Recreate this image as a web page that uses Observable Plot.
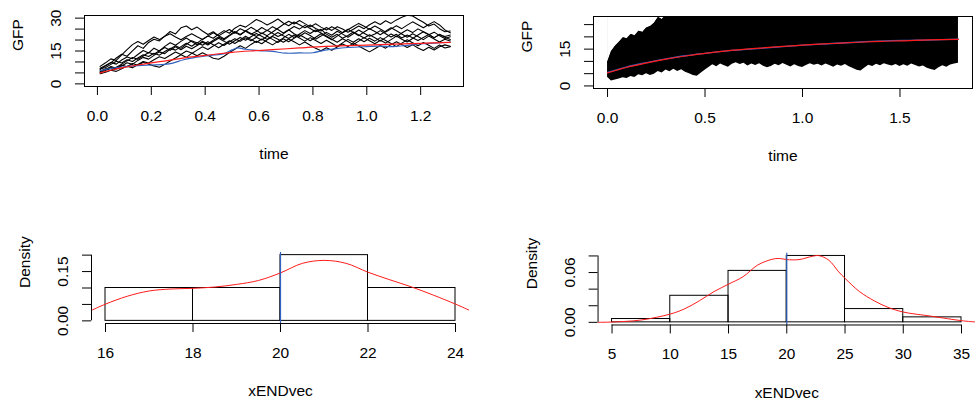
<!DOCTYPE html>
<html><head><meta charset="utf-8">
<script src="https://cdn.jsdelivr.net/npm/d3@7"></script>
<script src="https://cdn.jsdelivr.net/npm/@observablehq/plot@0.6"></script>
<style>
html,body{margin:0;padding:0;background:#fff;overflow:hidden;}
#wrap{position:relative;width:976px;height:406px;overflow:hidden;background:#fff;}
.panel{position:absolute;}
.panel svg{overflow:visible;display:block;}
</style></head><body><div id="wrap"></div>
<script>
// ---------- Panel 1: a few trajectories ----------
const timeGrid = [0.01,0.03,0.05,0.07,0.09,0.11,0.13,0.15,0.17,0.19,0.21,0.23,0.25,0.27,0.29,0.31,0.33,0.35,0.37,0.39,0.41,0.43,0.45,0.47,0.49,0.51,0.53,0.55,0.57,0.59,0.61,0.63,0.65,0.67,0.69,0.71,0.73,0.75,0.77,0.79,0.81,0.83,0.85,0.87,0.89,0.91,0.93,0.95,0.97,0.99,1.01,1.03,1.05,1.07,1.09,1.11,1.13,1.15,1.17,1.19,1.21,1.23,1.25,1.27,1.29,1.31];
const seriesA = [6.5,8.2,9.6,11.8,13.5,12.6,15.1,17.4,16.2,18.9,20.4,19.6,21.8,23.9,22.8,25.6,26.4,24.7,25.9,24.1,22.5,23.8,21.9,23.4,24.8,23.1,25.2,24.0,22.6,23.9,25.7,24.3,26.1,24.8,23.2,24.7,22.9,21.6,23.3,22.1,20.4,21.8,23.5,22.2,24.0,22.7,21.3,22.9,24.6,23.1,21.7,22.8,24.3,22.9,21.4,22.6,20.9,22.3,21.0,19.8,21.2,22.5,21.1,22.4,21.6,22.3];
const seriesB = [5.2,6.1,7.4,6.8,8.2,9.6,8.9,10.7,12.1,11.3,13.0,14.6,13.8,15.9,17.4,16.2,18.1,19.7,18.6,20.4,21.9,20.8,22.7,24.3,23.1,25.4,26.8,25.9,27.6,29.4,28.3,26.9,28.1,29.6,27.8,26.5,28.2,27.0,25.6,26.9,25.3,24.1,25.7,24.4,26.1,25.0,23.6,24.9,26.4,25.2,27.0,28.3,27.1,28.8,27.6,29.2,30.4,31.3,31.0,29.5,28.1,26.4,27.3,25.2,23.8,24.1];
const seriesC = [7.1,8.4,9.8,9.0,10.9,12.3,11.5,13.4,15.2,14.1,16.3,15.0,17.1,18.8,17.6,19.4,20.9,19.3,17.8,19.5,18.2,19.9,21.4,20.1,21.9,23.5,22.3,24.1,25.8,24.4,22.9,24.5,23.1,21.6,22.8,24.6,26.2,25.0,26.7,25.3,23.8,24.9,22.7,21.3,22.6,20.8,22.1,23.7,22.3,20.9,22.4,21.0,19.6,21.1,22.8,21.5,23.2,24.7,23.4,25.1,23.8,22.4,23.6,22.0,20.7,21.5];
const seriesD = [4.6,5.3,6.2,5.7,6.9,8.1,7.4,8.8,10.2,9.5,11.0,12.4,11.6,13.1,14.5,13.4,15.0,14.1,12.8,14.2,13.0,11.7,11.2,12.6,14.3,15.8,17.4,16.2,18.0,19.5,18.3,20.1,21.6,20.4,19.0,20.5,19.2,17.8,19.1,17.6,16.2,15.1,16.5,15.3,16.8,18.2,17.0,18.6,17.3,15.9,14.6,16.0,17.5,16.3,17.9,19.2,18.0,16.6,17.9,16.4,15.2,16.7,15.5,16.9,17.8,17.2];
const seriesE = [5.9,6.6,7.9,7.1,8.6,7.8,9.3,8.5,9.9,9.0,8.2,7.6,8.9,10.4,11.8,13.3,12.1,13.9,15.4,16.9,15.7,17.3,18.8,17.5,19.2,20.6,19.4,21.0,19.7,21.3,20.0,21.7,20.3,18.9,20.6,19.2,20.8,22.4,21.0,19.7,21.3,22.9,21.5,20.1,21.8,23.4,24.9,23.5,22.0,23.7,25.2,23.9,22.4,24.0,25.6,24.2,22.8,21.3,22.9,21.6,20.2,21.8,20.5,19.1,20.4,19.6];
const seriesF = [8.0,9.6,11.4,10.7,13.2,15.6,17.9,19.3,18.1,19.8,21.4,20.2,21.7,22.9,21.4,20.1,21.6,22.9,21.5,20.2,21.8,23.3,22.0,20.6,22.2,23.9,22.5,24.2,23.0,21.6,23.2,22.0,23.7,25.4,27.1,28.6,27.3,28.9,27.5,26.0,27.4,25.9,24.6,26.1,24.8,23.3,24.7,26.2,27.6,26.3,24.9,26.4,25.0,23.6,25.1,26.5,25.2,26.8,28.3,27.0,25.6,27.1,28.4,26.9,24.6,23.3];
const seriesG = [6.8,7.5,8.9,10.3,9.5,11.0,10.2,11.8,13.3,12.5,14.0,13.1,14.8,16.2,15.4,17.0,18.5,17.2,18.9,17.6,19.2,17.9,16.5,18.1,19.7,18.4,20.0,21.7,20.3,18.9,20.5,19.1,17.8,19.4,21.0,22.6,21.2,22.8,24.3,23.0,24.6,23.2,21.8,20.4,19.0,20.6,19.3,17.9,19.5,21.1,19.7,18.3,19.9,18.6,20.2,21.8,20.4,19.1,20.7,22.3,23.8,22.5,21.0,22.6,21.3,20.2];
const seriesH = [5.5,6.9,6.1,7.6,9.0,10.5,12.0,11.2,12.7,14.3,13.5,15.1,16.6,15.3,16.9,15.6,17.2,16.0,17.5,19.0,17.7,19.3,20.8,19.5,18.1,19.7,21.2,19.9,21.5,23.0,21.7,20.3,21.9,23.4,22.0,20.7,22.3,20.9,19.5,21.1,19.8,18.4,19.9,18.5,17.1,18.7,20.3,19.0,20.6,19.2,20.8,19.5,21.1,19.8,18.4,17.0,18.6,20.1,18.8,17.4,18.9,17.6,16.2,17.7,16.4,17.0];
const p1RedT = [0.01,0.05,0.10,0.15,0.20,0.26,0.30,0.35,0.42,0.50,0.58,0.65,0.75,0.83,0.90,1.00,1.10,1.20,1.31];
const p1Red  = [5.0,6.2,7.5,8.6,9.6,10.6,11.4,12.3,13.3,14.4,15.1,15.6,16.4,17.0,17.3,17.7,18.1,18.5,18.9];
const p1BlueT = [0.01,0.05,0.10,0.15,0.20,0.25,0.28,0.32,0.36,0.42,0.47,0.50,0.52,0.55,0.60,0.65,0.70,0.75,0.80,0.84,0.88,0.93,1.00,1.05,1.10,1.15,1.20,1.25,1.31];
const p1Blue  = [6.0,7.0,7.8,8.3,8.6,8.9,9.5,11.0,12.0,13.0,13.8,15.5,16.4,15.8,15.2,14.8,14.0,14.1,14.2,15.3,16.0,16.6,17.0,17.2,17.0,17.6,18.3,18.6,19.0];
const p1XTicks = [0,0.2,0.4,0.6,0.8,1.0,1.2];
const p1YTicks = [0,5,10,15,20,25,30];
const p1YLabels = [0,15,30];

// ---------- Panel 2: many trajectories (envelope) ----------
const bandTime = [0,0.02,0.04,0.06,0.08,0.10,0.12,0.14,0.16,0.18,0.20,0.22,0.24,0.26,0.28,0.30,0.32,0.34,0.36,0.38,0.40,0.42,0.44,0.46,0.48,0.50,0.52,0.54,0.56,0.58,0.60,0.62,0.64,0.66,0.68,0.70,0.72,0.74,0.76,0.78,0.80,0.82,0.84,0.86,0.88,0.90,0.92,0.94,0.96,0.98,1.00,1.02,1.04,1.06,1.08,1.10,1.12,1.14,1.16,1.18,1.20,1.22,1.24,1.26,1.28,1.30,1.32,1.34,1.36,1.38,1.40,1.42,1.44,1.46,1.48,1.50,1.52,1.54,1.56,1.58,1.60,1.62,1.64,1.66,1.68,1.70,1.72,1.74,1.76,1.78,1.80];
const bandLow = [3.5,2.0,2.4,2.8,3.3,3.0,3.8,3.4,4.6,4.1,5.0,4.3,4.8,5.9,5.3,6.5,5.8,6.8,5.9,6.6,5.6,5.0,4.2,3.9,5.2,6.4,7.5,8.6,7.8,8.9,8.2,7.6,8.8,9.4,8.7,9.2,8.1,8.9,8.3,9.0,8.0,7.4,7.9,8.8,8.2,9.1,8.4,7.7,8.6,7.9,7.5,8.3,9.0,8.4,8.8,8.1,8.9,8.3,7.6,8.5,8.0,8.7,7.8,7.1,6.4,6.1,7.3,8.4,7.9,8.8,8.2,9.0,8.5,8.1,8.7,7.9,8.6,8.0,8.9,8.3,7.7,8.1,7.2,6.7,6.3,7.4,8.2,7.6,8.5,8.9,9.2];
const bandHighTime = [0,0.02,0.04,0.06,0.08,0.10,0.12,0.14,0.16,0.18,0.20,0.22,0.24,0.26,0.28,0.30,0.32,0.34];
const bandHigh = [9.5,14.0,16.2,17.8,19.6,19.2,21.0,20.4,22.3,21.8,23.6,24.2,25.5,27.9,27.0,29.0,30.5,31.0];
const p2RedT = [0,0.05,0.10,0.19,0.30,0.40,0.50,0.60,0.76,0.90,1.02,1.15,1.28,1.40,1.51,1.65,1.80];
const p2Red  = [5.3,6.5,7.6,9.2,10.9,12.2,13.3,14.2,15.3,16.1,16.7,17.3,17.8,18.2,18.4,18.8,19.0];
const p2BlueT = [0,0.10,0.20,0.30,0.40,0.50,0.60,0.75,0.90,1.00,1.15,1.30,1.45,1.55,1.65,1.80];
const p2Blue  = [5.5,7.8,9.5,11.0,12.3,13.3,14.2,15.1,16.0,16.6,17.3,17.9,18.5,18.6,18.7,19.1];
const p2XTicks = [0,0.5,1.0,1.5];
const p2YTicks = [0,5,10,15,20,25];
const p2YLabels = [0,15];

// ---------- Panel 3: histogram (few runs) ----------
const h3Breaks = [16,18,20,22,24];
const h3Density = [0.10,0.10,0.20,0.10];
const h3DensX = [15.68,16,16.5,17,17.5,18,18.5,19,19.5,20,20.5,21,21.5,22,22.5,23,23.5,24,24.32];
const h3DensY = [0.032,0.051,0.075,0.091,0.097,0.099,0.103,0.111,0.123,0.146,0.175,0.184,0.175,0.148,0.125,0.103,0.078,0.051,0.032];
const h3XTicks = [16,18,20,22,24];
const h3YTicks = [0,0.05,0.10,0.15,0.20];
const h3YLabels = [0,0.15];

// ---------- Panel 4: histogram (many runs) ----------
const h4Breaks = [5,10,15,20,25,30,35];
const h4Density = [0.004,0.032,0.062,0.080,0.016,0.006];
const h4DensX = [3.8,5,7.5,10,11.25,12.5,13.75,15,16.25,17.5,18.75,19.35,20,21.05,22.2,22.75,23.6,24.45,25,26.25,27.5,28.7,30,32.5,35,36.2];
const h4DensY = [0,0.0004,0.0028,0.010,0.0164,0.026,0.037,0.046,0.055,0.069,0.076,0.077,0.0756,0.0756,0.0796,0.0804,0.075,0.061,0.053,0.037,0.026,0.018,0.0124,0.0072,0.002,0.0004];
const h4XTicks = [5,10,15,20,25,30,35];
const h4YTicks = [0,0.02,0.04,0.06,0.08];
const h4YLabels = [0,0.06];

const vLine = 20;
const RED = "#ff1a1a";
const BLUE = "#2f62c0";
const FONT = "'Liberation Sans', Arial, Helvetica, sans-serif";
const FS = 15.5;

function pairs(xs, ys) { return xs.map((x, i) => ({x, y: ys[i]})); }

function panel(cfg) {
  const {left, top, width, height, m, xDomain, yDomain, xTicks, xFmt, yTicks, yLabels, yFmt, xTitle, yTitle, box} = cfg;
  const marks = [...cfg.marks];
  marks.push(
    Plot.axisX({ticks: xTicks, tickSize: 9, tickFormat: () => "", label: null}),
    Plot.axisY({ticks: yTicks, tickSize: 9, tickFormat: () => "", label: null}),
    Plot.ruleY([yDomain[0]], {x1: xTicks[0], x2: xTicks[xTicks.length - 1], stroke: "black"}),
    Plot.ruleX([xDomain[0]], {y1: yTicks[0], y2: yTicks[yTicks.length - 1], stroke: "black"}),
    Plot.text(xTicks, {x: d => d, frameAnchor: "bottom", dy: 29.5, text: xFmt, lineAnchor: "middle", fontSize: FS}),
    Plot.text(yLabels, {y: d => d, frameAnchor: "left", dx: -28.5, rotate: -90, text: yFmt, lineAnchor: "middle", textAnchor: "middle", fontSize: FS}),
    Plot.text([xTitle], {frameAnchor: "bottom", dy: 68, lineAnchor: "middle", fontSize: FS}),
    Plot.text([yTitle], {frameAnchor: "left", dx: -66.5, rotate: -90, lineAnchor: "middle", fontSize: FS})
  );
  if (box) marks.push(Plot.frame({stroke: "black"}));
  const svg = Plot.plot({
    width, height,
    marginLeft: m[0], marginRight: m[1], marginTop: m[2], marginBottom: m[3],
    x: {domain: xDomain},
    y: {domain: yDomain},
    style: {fontFamily: FONT, fontSize: FS + "px", background: "transparent", color: "black", overflow: "visible"},
    marks
  });
  const div = document.createElement("div");
  div.className = "panel";
  div.style.left = left + "px";
  div.style.top = top + "px";
  div.appendChild(svg);
  document.getElementById("wrap").appendChild(div);
}

// Panel 1
const allSeries = [seriesA, seriesB, seriesC, seriesD, seriesE, seriesF, seriesG, seriesH];
const p1Rows = allSeries.flatMap((s, i) => s.map((v, k) => ({t: timeGrid[k], v, s: i})));
panel({
  left: 0, top: 0, width: 488, height: 203, m: [84, 25, 15, 117],
  xDomain: [-0.048, 1.359], yDomain: [-1.2, 31.2],
  xTicks: p1XTicks, xFmt: d => d.toFixed(1),
  yTicks: p1YTicks, yLabels: p1YLabels, yFmt: d => String(d),
  xTitle: "time", yTitle: "GFP", box: true,
  marks: [
    Plot.line(p1Rows, {x: "t", y: "v", z: "s", stroke: "black", strokeWidth: 1.1, clip: true}),
    Plot.line(pairs(p1BlueT, p1Blue), {x: "x", y: "y", stroke: BLUE, strokeWidth: 1.2, curve: "catmull-rom", clip: true}),
    Plot.line(pairs(p1RedT, p1Red), {x: "x", y: "y", stroke: RED, strokeWidth: 1.2, curve: "catmull-rom", clip: true})
  ]
});

// Panel 2
const bandRows = bandTime.map((t, i) => ({t, lo: bandLow[i]}));
const highRows = bandHighTime.map((t, i) => ({t, hi: bandHigh[i]}));
panel({
  left: 488, top: 0, width: 488, height: 203, m: [105, 4, 16, 115],
  xDomain: [-0.072, 1.872], yDomain: [-1.05, 28.3],
  xTicks: p2XTicks, xFmt: d => d.toFixed(1),
  yTicks: p2YTicks, yLabels: p2YLabels, yFmt: d => String(d),
  xTitle: "time", yTitle: "GFP", box: true,
  marks: [
    Plot.areaY(bandRows, {x: "t", y1: "lo", y2: 40, fill: "black", clip: true}),
    Plot.areaY(highRows, {x: "t", y1: "hi", y2: 40, fill: "white", clip: true}),
    Plot.line(highRows, {x: "t", y: "hi", stroke: "black", strokeWidth: 1, clip: true}),
    Plot.line(pairs(p2BlueT, p2Blue), {x: "x", y: "y", stroke: BLUE, strokeWidth: 1.3, curve: "catmull-rom", clip: true}),
    Plot.line(pairs(p2RedT, p2Red), {x: "x", y: "y", stroke: RED, strokeWidth: 1.2, curve: "catmull-rom", clip: true})
  ]
});

// Panel 3
const h3Bars = h3Density.map((d, i) => ({x1: h3Breaks[i], x2: h3Breaks[i + 1], d}));
panel({
  left: 0, top: 203, width: 488, height: 203, m: [91, 19, 49, 83],
  xDomain: [15.68, 24.32], yDomain: [-0.008, 0.208],
  xTicks: h3XTicks, xFmt: d => String(d),
  yTicks: h3YTicks, yLabels: h3YLabels, yFmt: d => d.toFixed(2),
  xTitle: "xENDvec", yTitle: "Density", box: false,
  marks: [
    Plot.rect(h3Bars, {x1: "x1", x2: "x2", y1: 0, y2: "d", fill: "none", stroke: "black", strokeWidth: 1}),
    Plot.line(pairs(h3DensX, h3DensY), {x: "x", y: "y", stroke: RED, strokeWidth: 1, curve: "catmull-rom", clip: true}),
    Plot.ruleX([vLine], {stroke: BLUE, strokeWidth: 1.2})
  ]
});

// Panel 4
const h4Bars = h4Density.map((d, i) => ({x1: h4Breaks[i], x2: h4Breaks[i + 1], d}));
panel({
  left: 488, top: 203, width: 490, height: 203, m: [110, 1, 50, 81],
  xDomain: [3.8, 36.2], yDomain: [-0.0032, 0.0832],
  xTicks: h4XTicks, xFmt: d => String(d),
  yTicks: h4YTicks, yLabels: h4YLabels, yFmt: d => d.toFixed(2),
  xTitle: "xENDvec", yTitle: "Density", box: false,
  marks: [
    Plot.rect(h4Bars, {x1: "x1", x2: "x2", y1: 0, y2: "d", fill: "none", stroke: "black", strokeWidth: 1}),
    Plot.line(pairs(h4DensX, h4DensY), {x: "x", y: "y", stroke: RED, strokeWidth: 1, curve: "catmull-rom", clip: true}),
    Plot.ruleX([vLine], {stroke: BLUE, strokeWidth: 1.2})
  ]
});
</script></body></html>
